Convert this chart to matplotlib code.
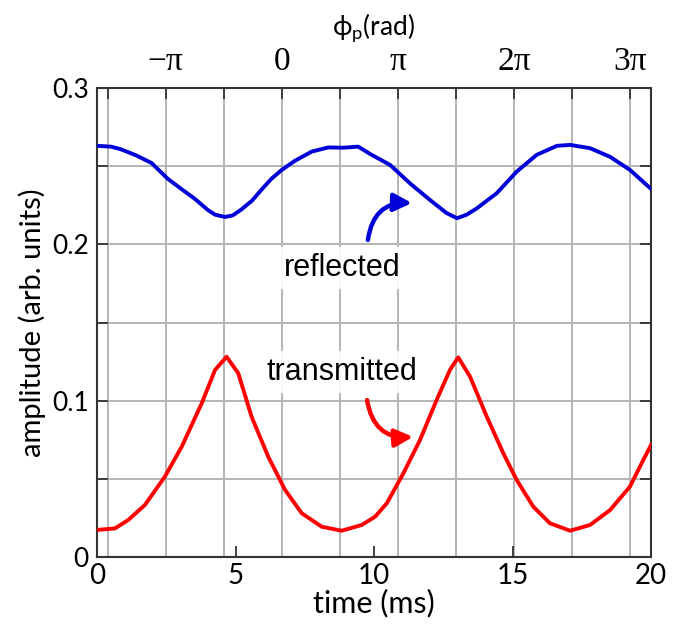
import matplotlib
matplotlib.use("Agg")
import matplotlib.pyplot as plt

# ---- data ----
t_refl = [0, 0.5, 0.83, 1.4, 1.97, 2.55, 3.0, 3.54, 4.0, 4.26, 4.62, 4.9, 5.22, 5.6,
          5.94, 6.3, 6.67, 7.15, 7.75, 8.35, 8.9, 9.43, 9.86, 10.58, 11.3, 12.02,
          12.62, 13.0, 13.35, 13.71, 14.43, 15.15, 15.87, 16.6, 17.08, 17.8, 18.52,
          19.24, 20.0]
refl = [0.263, 0.2625, 0.261, 0.257, 0.252, 0.242, 0.236, 0.229, 0.222, 0.219,
        0.2175, 0.2185, 0.2224, 0.228, 0.235, 0.242, 0.2476, 0.2535, 0.2593, 0.262,
        0.2618, 0.2625, 0.2578, 0.2508, 0.239, 0.2284, 0.22, 0.2167, 0.219, 0.223,
        0.2327, 0.2465, 0.2572, 0.263, 0.2636, 0.2615, 0.256, 0.2476, 0.2355]

t_trans = [0, 0.65, 1.13, 1.73, 2.45, 3.06, 3.78, 4.26, 4.68, 5.1, 5.58, 6.18, 6.79,
           7.39, 8.11, 8.83, 9.56, 10.04, 10.46, 11.06, 11.66, 12.26, 12.74, 13.04,
           13.47, 14.07, 14.67, 15.15, 15.75, 16.35, 17.08, 17.8, 18.52, 19.24,
           19.72, 20.0]
trans = [0.0173, 0.0183, 0.0237, 0.0333, 0.0514, 0.0706, 0.0983, 0.1196, 0.1281,
         0.1175, 0.0898, 0.0642, 0.0429, 0.028, 0.0194, 0.0168, 0.0205, 0.0258,
         0.0343, 0.0535, 0.0748, 0.1004, 0.1196, 0.1277, 0.1153, 0.0898, 0.0663,
         0.0493, 0.0322, 0.0216, 0.0168, 0.0205, 0.030, 0.045, 0.062, 0.0716]

x_ticks = [0, 5, 10, 15, 20]
x_ticklabels = ["0", "5", "10", "15", "20"]
y_ticks = [0, 0.1, 0.2, 0.3]
y_ticklabels = ["0", "0.1", "0.2", "0.3"]
y_minor = [0.05, 0.15, 0.25]
phase_ticks = [0.38, 2.48, 4.57, 6.67, 8.76, 10.86, 12.95, 15.05, 17.14, 19.24]
phase_labels = ["", "\u2212\u03c0", "", "0", "", "\u03c0", "", "2\u03c0", "", "3\u03c0"]

sans = ["Lato", "DejaVu Sans"]

fig = plt.figure(figsize=(6.79, 6.29), dpi=100)
ax = fig.add_axes([97 / 679, 1 - 557 / 629, (651 - 97) / 679, (557 - 88) / 629])

grid_c = "#b4b4b4"
for p in phase_ticks:
    ax.axvline(p, color=grid_c, lw=1.4, zorder=0)
for yv in [0.05, 0.1, 0.15, 0.2, 0.25]:
    ax.axhline(yv, color=grid_c, lw=1.4, zorder=0)

ax.plot(t_refl, refl, color="#0000d8", lw=2.8, zorder=3)
ax.plot(t_trans, trans, color="#ff0000", lw=2.8, zorder=3)

ax.set_xlim(0, 20)
ax.set_ylim(0, 0.3)

ax.set_xticks(x_ticks)
ax.set_xticklabels(x_ticklabels, family=sans, fontsize=20)
ax.set_yticks(y_ticks)
ax.set_yticklabels(y_ticklabels, family=sans, fontsize=19)
ax.set_yticks(y_minor, minor=True)
ax.tick_params(axis="both", which="both", direction="in", length=8, width=1.3,
               color="#333333", right=True)
ax.tick_params(axis="x", which="major", top=False, pad=4)
ax.tick_params(axis="y", which="major", pad=6)
for s in ax.spines.values():
    s.set_color("#333333")
    s.set_linewidth(1.5)

ax.set_xlabel("time (ms)", family=sans, fontsize=22, labelpad=0)
ax.set_ylabel("amplitude (arb. units)", family=sans, fontsize=21, labelpad=4)

top = ax.twiny()
top.set_xlim(0, 20)
top.set_xticks(phase_ticks)
top.set_xticklabels(phase_labels, family=["Liberation Serif", "DejaVu Serif"], fontsize=24)
top.tick_params(axis="x", direction="in", length=8, width=1.3, color="#333333", pad=8)
top.set_xlabel(r"$\mathregular{\phi_p}$(rad)", family=sans, fontsize=19, labelpad=8)
for s in top.spines.values():
    s.set_visible(False)

box = dict(boxstyle="square,pad=0.2", fc="white", ec="none", alpha=0.9)
ax.text(8.84, 0.185, "reflected", ha="center", va="center", fontsize=22,
        family=["Liberation Sans"], bbox=box, zorder=4)
ax.text(8.84, 0.1183, "transmitted", ha="center", va="center", fontsize=22,
        family=["Liberation Sans"], bbox=box, zorder=4)

ax.annotate("", xy=(11.37, 0.2264), xytext=(9.78, 0.2028),
            arrowprops=dict(arrowstyle="-|>", color="#0000d8", lw=3.2,
                            mutation_scale=27, shrinkA=0, shrinkB=0,
                            connectionstyle="arc3,rad=-0.45"), zorder=5)
ax.annotate("", xy=(11.41, 0.0768), xytext=(9.75, 0.1004),
            arrowprops=dict(arrowstyle="-|>", color="#ff0000", lw=3.2,
                            mutation_scale=27, shrinkA=0, shrinkB=0,
                            connectionstyle="arc3,rad=0.45"), zorder=5)

fig.savefig("out.png", dpi=100)
